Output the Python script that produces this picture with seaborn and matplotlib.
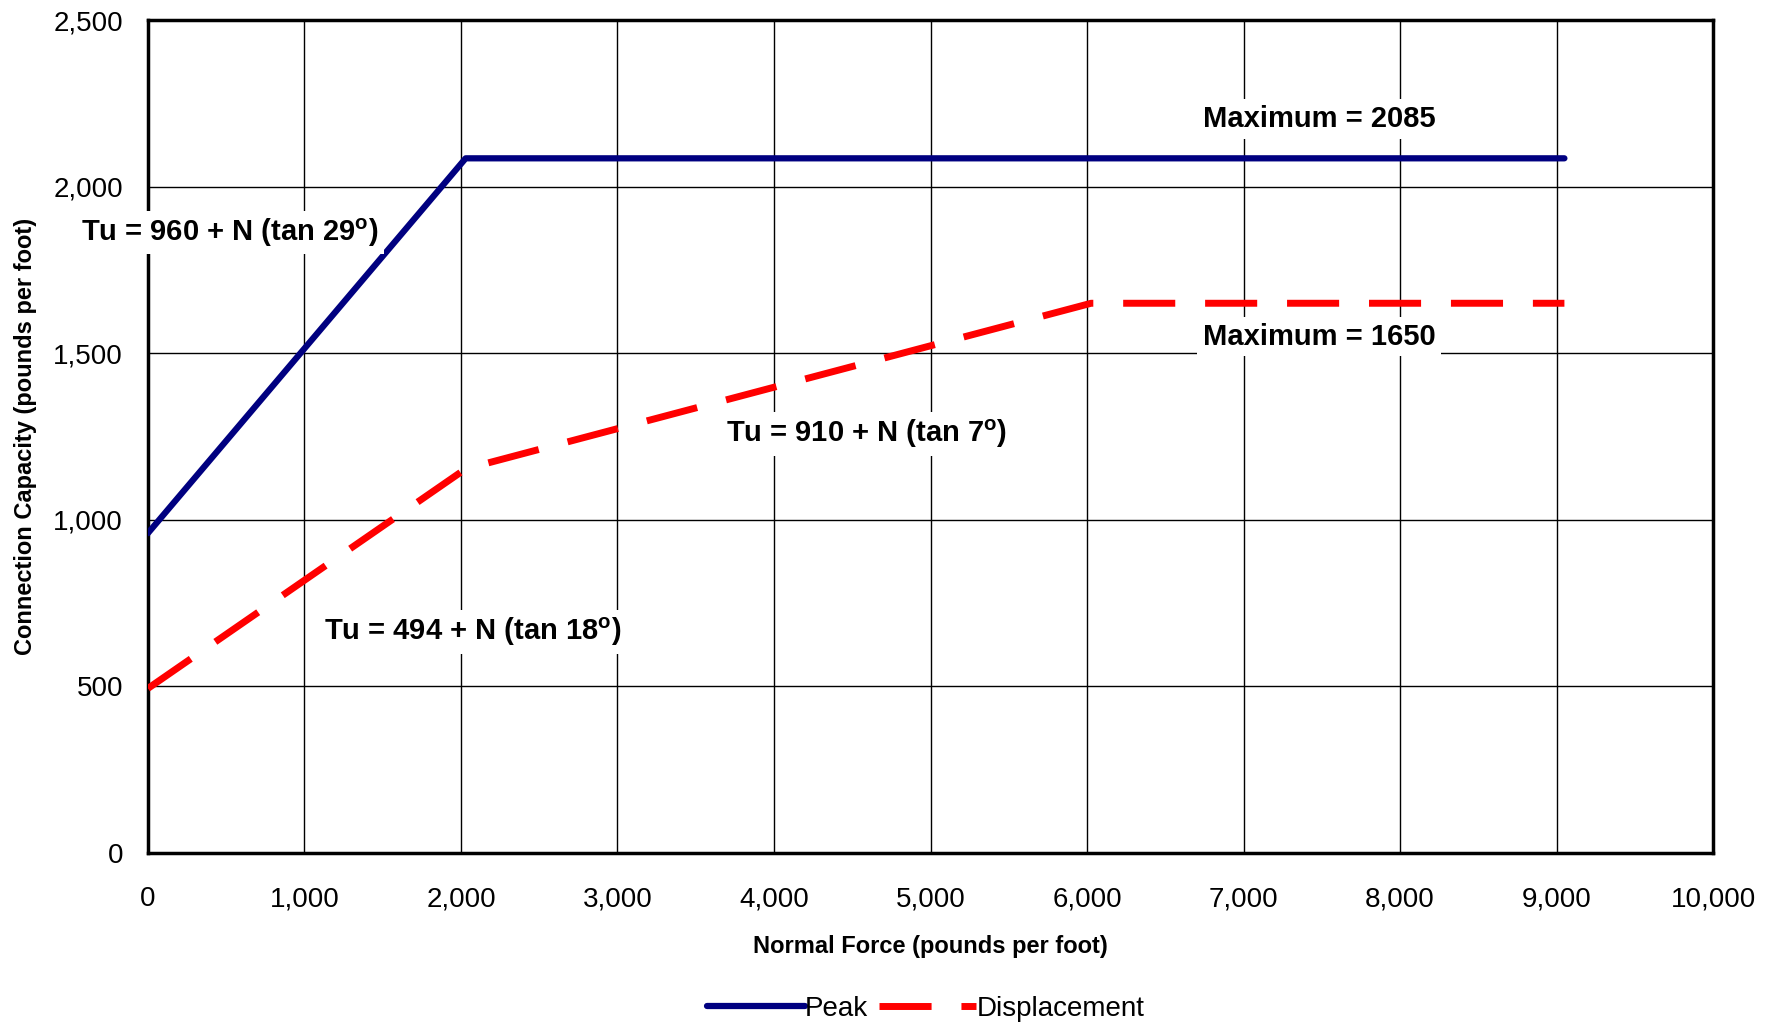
import pandas as pd
import matplotlib
matplotlib.use("Agg")
import matplotlib.pyplot as plt
import seaborn as sns
from matplotlib.ticker import FuncFormatter, MultipleLocator

# datos
peak_x = [0, 2030, 9050]
peak_y = [960, 2085, 2085]
disp_x = [0, 2030, 6026, 9050]
disp_y = [494, 1153, 1650, 1650]

etiquetas = ["Tu = 960 + N (tan 29$^\\mathbf{o}$)",
             "Tu = 910 + N (tan 7$^\\mathbf{o}$)",
             "Tu = 494 + N (tan 18$^\\mathbf{o}$)",
             "Maximum = 2085",
             "Maximum = 1650"]
etiq_x = [525, 4590, 2077, 7482, 7482]
etiq_y = [1862, 1257, 664, 2203, 1549]

sns.set_style("white")
plt.rcParams["font.family"] = ["Liberation Sans", "DejaVu Sans"]
plt.rcParams["mathtext.fontset"] = "custom"
plt.rcParams["mathtext.rm"] = "Liberation Sans"
plt.rcParams["mathtext.bf"] = "Liberation Sans:bold"
plt.rcParams["text.color"] = "black"
plt.rcParams["axes.labelcolor"] = "black"
plt.rcParams["xtick.color"] = "black"
plt.rcParams["ytick.color"] = "black"

df_peak = pd.DataFrame({"x": peak_x, "y": peak_y})
df_disp = pd.DataFrame({"x": disp_x, "y": disp_y})

fig = plt.figure(figsize=(17.78, 10.28), dpi=100)
ax = fig.add_axes([0.0832, 0.1702, 0.8803, 0.8103])

sns.lineplot(data=df_peak, x="x", y="y", ax=ax, color="#000080", lw=4.5,
             label="Peak", solid_capstyle="round", zorder=3)
sns.lineplot(data=df_disp, x="x", y="y", ax=ax, color="#ff0000", lw=5,
             label="Displacement", zorder=3)
ax.lines[1].set_dashes([7.5, 4.3])
ax.lines[1].set_dash_capstyle("butt")

ax.set_xlim(0, 10000)
ax.set_ylim(0, 2500)
ax.xaxis.set_major_locator(MultipleLocator(1000))
ax.yaxis.set_major_locator(MultipleLocator(500))
fmt = FuncFormatter(lambda v, p: f"{int(v):,}")
ax.xaxis.set_major_formatter(fmt)
ax.yaxis.set_major_formatter(fmt)
ax.grid(True, color="black", lw=1)
ax.tick_params(axis="both", direction="out", length=10, width=1.2,
               color="#555555", labelcolor="black", labelsize=20, pad=8)
ax.tick_params(axis="x", pad=14)
for s in ax.spines.values():
    s.set_color("black")
    s.set_linewidth(2.5)

ax.set_xlabel("Normal Force (pounds per foot)", fontsize=17, fontweight="bold", labelpad=16)
ax.set_ylabel("Connection Capacity (pounds per foot)", fontsize=17, fontweight="bold", labelpad=12)

for t, xx, yy in zip(etiquetas, etiq_x, etiq_y):
    ax.text(xx, yy, t, fontsize=21, fontweight="bold", ha="center", va="center",
            zorder=5, clip_on=False,
            bbox=dict(facecolor="white", edgecolor="none", pad=4))

leg = ax.legend(loc="center", bbox_to_anchor=(0.497, -0.187), ncol=2,
                frameon=False, fontsize=20, handlelength=3.5,
                handletextpad=0.0, columnspacing=0.4)
for t in leg.get_texts():
    t.set_color("black")

plt.savefig("out.png", dpi=100)
plt.close()
